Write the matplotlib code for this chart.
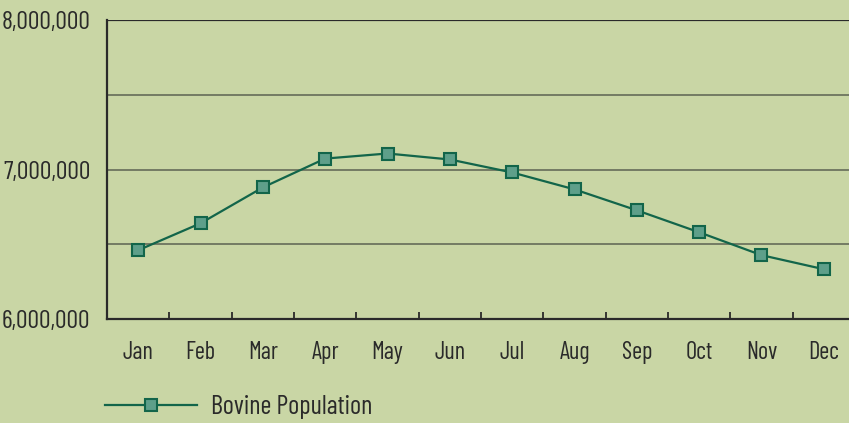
import numpy as np
import matplotlib.pyplot as plt
from matplotlib.ticker import FuncFormatter, FixedLocator
from matplotlib.lines import Line2D

months = ["Jan", "Feb", "Mar", "Apr", "May", "Jun",
          "Jul", "Aug", "Sep", "Oct", "Nov", "Dec"]
bovine = [6460000, 6640000, 6880000, 7073000, 7107000, 7067000,
          6980000, 6867000, 6727000, 6580000, 6427000, 6333000]
y_ticks = [6000000, 7000000, 8000000]
grid_lines = [6500000, 7000000, 7500000]

bg = "#c9d6a5"
line_col = "#12654a"
face_col = "#5e9f8a"
txt_col = "#2a2a2a"
plt.rcParams["font.family"] = ["Barlow Condensed", "DejaVu Sans"]

fig = plt.figure(figsize=(8.49, 4.23), dpi=100)
fig.patch.set_facecolor(bg)
W, H = 849, 423
ax = fig.add_axes([107 / W, 1 - 319 / H, (855 - 107) / W, (319 - 20) / H])
ax.patch.set_facecolor(bg)

x = np.arange(len(months))
for g in grid_lines:
    ax.axhline(g, color="#6c745f", lw=1.3, zorder=1)
ax.axhline(8000000, color=txt_col, lw=1.6, zorder=1)

ax.plot(x, bovine, color=line_col, lw=1.6, marker="s", markersize=9,
        markerfacecolor=face_col, markeredgecolor=line_col,
        markeredgewidth=1.5, zorder=3)

ax.set_xlim(-0.5, len(months) - 0.5)
ax.set_ylim(6000000, 8000000)

for s in ["top", "right"]:
    ax.spines[s].set_visible(False)
for s in ["left", "bottom"]:
    ax.spines[s].set_color(txt_col)
    ax.spines[s].set_linewidth(1.6)

ax.set_xticks(x)
ax.set_xticklabels(months, fontsize=17.5, color=txt_col)
ax.xaxis.set_minor_locator(FixedLocator(np.arange(0.5, len(months) - 0.5, 1)))
ax.tick_params(axis="x", which="major", length=0, pad=16)
ax.tick_params(axis="x", which="minor", direction="in", length=5,
               width=1.3, color=txt_col)

ax.set_yticks(y_ticks)
ax.yaxis.set_major_formatter(FuncFormatter(lambda v, p: f"{int(v):,}"))
ax.tick_params(axis="y", length=0, pad=12, labelsize=18.5, labelcolor=txt_col)

handle = Line2D([], [], color=line_col, lw=1.6, marker="s", markersize=9,
                markerfacecolor=face_col, markeredgecolor=line_col,
                markeredgewidth=1.5)
fig.legend([handle], ["Bovine Population"], loc="center left",
           bbox_to_anchor=(105 / W, 1 - 407 / H), frameon=False,
           borderpad=0, borderaxespad=0,
           fontsize=19, handlelength=3.5, handletextpad=0.5,
           labelcolor=txt_col)

fig.savefig("out.png", dpi=100, facecolor=bg)
